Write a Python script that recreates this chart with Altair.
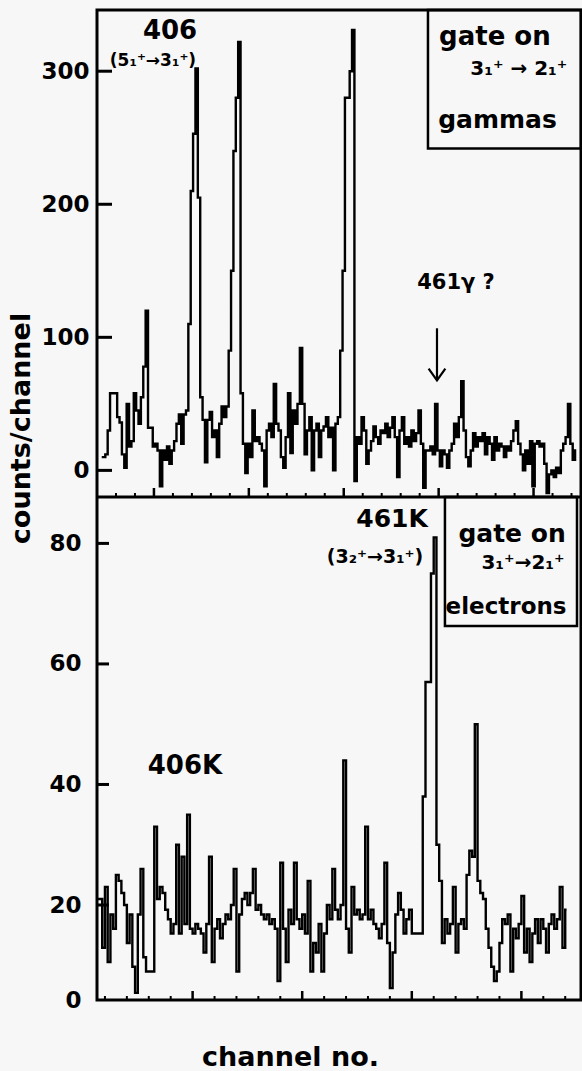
import altair as alt
import pandas as pd

# ---------------- data ----------------
# upper panel: gamma spectrum, counts per channel (channel 18 onward)
top_counts = [
    10, 10, 12, 30, 58, 58, 58, 40, 36, 12,
    2, 50, 18, 22, 58, 45, 35, 55, 78, 120,
    32, 32, 18, 20, 15, -12, 15, 8, 18, 5,
    15, 22, 35, 42, 20, 42, 45, 110, 210, 253,
    302, 205, 55, 38, 6, 38, 44, 25, 30, 10,
    35, 48, 40, 48, 90, 150, 240, 280, 322, 58,
    20, -2, 20, 10, 45, 22, 25, 20, 15, -12,
    30, 35, 25, 65, 35, 30, 10, 2, 25, 58,
    13, 45, 35, 50, 92, 50, 12, 30, 40, 0,
    30, 35, 10, 30, 33, 40, 25, 32, 0, 35,
    40, 90, 150, 280, 280, 300, 331, -8, 25, 20,
    40, 30, 5, 15, 22, 33, 25, 20, 30, 28,
    35, 25, 32, 40, 25, -5, 30, 40, 20, 25,
    18, 30, 22, 28, 45, 20, -13, 15, 15, 18,
    12, 50, 15, 3, 15, 12, 2, 15, 20, 35,
    25, 40, 67, 30, 10, 3, 15, 28, 18, 25,
    22, 28, 12, 25, 20, 8, 25, 15, 20, 18,
    10, 18, 15, 22, 30, 37, 20, 12, 0, 15,
    5, 22, -12, 20, 22, 18, 20, 5, -17, -3,
    0, -5, 2, -2, 15, 20, 25, 50, 20, 8,
    15,
]
top_first_channel = 18

# lower panel: electron spectrum, counts per channel
bottom_counts = [
    21, 21, 21, 11, 23, 8, 18, 15, 25, 24,
    22, 20, 12, 18, 7, 1.5, 18, 26, 9, 6,
    6, 6, 33, 21, 23, 22, 19, 17, 14, 16,
    30, 14, 28, 16, 35, 15, 14, 16, 15, 14,
    10, 16, 28, 8, 15, 17, 13, 16, 18, 17,
    20, 26, 6, 18, 21, 22, 20, 22, 26, 19,
    20, 18, 17, 18, 16, 17, 15, 4, 27, 15,
    8, 19, 16, 27, 17, 15, 18, 14, 24, 6,
    12, 10, 16, 6, 14, 20, 17, 26, 19, 17,
    20, 44, 15, 10, 23, 18, 19, 17, 18, 33,
    17, 19, 16, 15, 13, 16, 27, 12, 2.5, 10,
    18, 22, 19, 14, 17, 19, 14, 14, 14, 14,
    38, 57, 57, 75, 81, 30, 24, 12, 17, 14,
    16, 23, 10, 16, 17, 15, 25, 29, 28, 50,
    24, 22, 21, 15, 11, 7, 4, 6, 12, 17,
    16, 18, 6, 15, 13, 16, 21.5, 10, 15, 8,
    14, 17, 12, 17, 15, 10, 16, 18, 15, 17,
    23, 11, 19,
]
bottom_first_channel = 4.5

# axis tick values
top_y_ticks = [0, 100, 200, 300]
bottom_y_labels = [0, 20, 40, 60, 80]
bottom_y_ticks = [20, 40, 60, 80]
top_x_major = [40, 80, 120, 160, 200]
top_x_minor = [24, 32, 48, 56, 64, 72, 88, 96, 104, 112, 128, 136, 144, 152,
               168, 176, 184, 192, 208, 216]
bottom_x_major = [40, 80, 120, 160]
bottom_x_minor = [8, 16, 24, 32, 48, 56, 64, 72, 88, 96, 104, 112, 128, 136,
                  144, 152, 168, 176]

# annotations (data coordinates)
top_note_text = ["406", "(5\u2081\u207a\u21923\u2081\u207a)", "gate  on",
                 "3\u2081\u207a \u2192 2\u2081\u207a", "gammas", "461\u03b3 ?"]
top_note_x = [46.8, 39.6, 183.7, 193.8, 184.8, 167.3]
top_note_y = [330, 308, 325.6, 302, 263, 140.6]
top_note_size = [26, 17, 26, 20, 25, 21]

bottom_note_text = ["461K", "(3\u2082\u207a\u21923\u2081\u207a)", "gate  on",
                    "3\u2081\u207a\u21922\u2081\u207a", "electrons", "406K"]
bottom_note_x = [112.8, 106.6, 156.6, 160.6, 154.4, 37.2]
bottom_note_y = [84, 77.8, 81.5, 76.7, 69.5, 43]
bottom_note_size = [25, 19, 25, 20, 23, 26]

top_box = {"x": [155.5], "x2": [220], "y": [242], "y2": [346]}
bottom_box = {"x": [132.1], "x2": [180.3], "y": [66.3], "y2": [87.7]}
arrow = {"x": [159.3], "y": [106.8], "y2": [67.7]}
separator = {"x": [16], "x2": [220], "y": [-20]}

FONT = "DejaVu Sans"
INK = "black"

W = 484          # plot width
TOP_H = 487      # upper panel height
H = 990          # both panels

# ---------------- scales (each panel its own) ----------------
top_xs = alt.Scale(domain=[16, 220], range=[0, W], nice=False, zero=False)
top_ys = alt.Scale(domain=[-20, 346], range=[TOP_H, 0], nice=False, zero=False)
bot_xs = alt.Scale(domain=[5.1, 180.3], range=[0, 480], nice=False, zero=False)
bot_ys = alt.Scale(domain=[0, 20, 87.7], range=[H, H - 95, TOP_H],
                   nice=False, zero=False)


def qx(field, scale, axis=None):
    return alt.X(field, type="quantitative", scale=scale, axis=axis)


def qy(field, scale, axis=None):
    return alt.Y(field, type="quantitative", scale=scale, axis=axis)


# ---------------- upper panel ----------------
top_df = pd.DataFrame({
    "ch": [top_first_channel + i for i in range(len(top_counts))],
    "counts": top_counts,
})

top_line = alt.Chart(top_df).mark_line(
    interpolate="step", color=INK, strokeWidth=2.4, clip=True
).encode(
    x=qx("ch", top_xs),
    y=qy("counts", top_ys, alt.Axis(
        orient="left", values=top_y_ticks, ticks=False, domain=False,
        grid=False, labelFont=FONT, labelFontSize=23, labelFontWeight="bold",
        labelColor=INK, labelPadding=8,
        title="counts/channel", titleFont=FONT, titleFontSize=27,
        titleFontWeight="bold", titleColor=INK, titleAngle=270,
        titleX=-76, titleY=418, titleAlign="center", titleBaseline="middle",
    )),
)

top_major = alt.Chart(pd.DataFrame({"t": top_x_major})).mark_rule(
    color=INK, strokeWidth=2.5
).encode(x=qx("t", top_xs), y=alt.value(TOP_H), y2=alt.value(TOP_H - 9))
top_minor = alt.Chart(pd.DataFrame({"t": top_x_minor})).mark_rule(
    color=INK, strokeWidth=2
).encode(x=qx("t", top_xs), y=alt.value(TOP_H), y2=alt.value(TOP_H - 4))
top_yt = alt.Chart(pd.DataFrame({"v": top_y_ticks})).mark_rule(
    color=INK, strokeWidth=3
).encode(y=qy("v", top_ys), x=alt.value(0), x2=alt.value(15))

sep = alt.Chart(pd.DataFrame(separator)).mark_rule(
    color=INK, strokeWidth=3
).encode(x=qx("x", top_xs), x2="x2:Q", y=qy("y", top_ys))

top_box_layer = alt.Chart(pd.DataFrame(top_box)).mark_rect(
    fillOpacity=0, stroke=INK, strokeWidth=2.5
).encode(x=qx("x", top_xs), x2="x2:Q", y=qy("y", top_ys), y2="y2:Q")

top_notes = alt.Chart(pd.DataFrame({
    "x": top_note_x, "y": top_note_y, "t": top_note_text, "fs": top_note_size
})).mark_text(font=FONT, fontWeight="bold", color=INK, align="center",
              baseline="middle").encode(
    x=qx("x", top_xs), y=qy("y", top_ys), text="t:N",
    size=alt.Size("fs:Q", scale=None, legend=None),
)

arrow_shaft = alt.Chart(pd.DataFrame(arrow)).mark_rule(
    color=INK, strokeWidth=2.2
).encode(x=qx("x", top_xs), y=qy("y", top_ys), y2="y2:Q")
arrow_head = alt.Chart(pd.DataFrame(arrow)).mark_point(
    shape="M-1,-1.4L0,0L1,-1.4", filled=False, stroke=INK, strokeWidth=2.2,
    size=280, opacity=1
).encode(x=qx("x", top_xs), y=qy("y2", top_ys))

# ---------------- lower panel ----------------
bot_df = pd.DataFrame({
    "ch": [bottom_first_channel + i for i in range(len(bottom_counts))],
    "counts": bottom_counts,
})

bot_line = alt.Chart(bot_df).mark_line(
    interpolate="step", color=INK, strokeWidth=2.4, clip=True
).encode(
    x=qx("ch", bot_xs, alt.Axis(
        orient="bottom", labels=False, ticks=False, domain=False, grid=False,
        title="channel  no.", titleFont=FONT, titleFontSize=27,
        titleFontWeight="bold", titleColor=INK, titleX=193, titleY=57,
        titleAlign="center", titleBaseline="middle",
    )),
    y=qy("counts", bot_ys, alt.Axis(
        orient="left", values=bottom_y_labels, ticks=False, domain=False,
        grid=False, labelFont=FONT, labelFontSize=23, labelFontWeight="bold",
        labelColor=INK, labelPadding=16, title=None,
    )),
)

bot_major = alt.Chart(pd.DataFrame({"t": bottom_x_major})).mark_rule(
    color=INK, strokeWidth=2.5
).encode(x=qx("t", bot_xs), y=alt.value(H), y2=alt.value(H - 9))
bot_minor = alt.Chart(pd.DataFrame({"t": bottom_x_minor})).mark_rule(
    color=INK, strokeWidth=2
).encode(x=qx("t", bot_xs), y=alt.value(H), y2=alt.value(H - 4))
bot_yt = alt.Chart(pd.DataFrame({"v": bottom_y_ticks})).mark_rule(
    color=INK, strokeWidth=3
).encode(y=qy("v", bot_ys), x=alt.value(0), x2=alt.value(12))

bot_box_layer = alt.Chart(pd.DataFrame(bottom_box)).mark_rect(
    fillOpacity=0, stroke=INK, strokeWidth=2.5
).encode(x=qx("x", bot_xs), x2="x2:Q", y=qy("y", bot_ys), y2="y2:Q")

bot_notes = alt.Chart(pd.DataFrame({
    "x": bottom_note_x, "y": bottom_note_y, "t": bottom_note_text,
    "fs": bottom_note_size
})).mark_text(font=FONT, fontWeight="bold", color=INK, align="center",
              baseline="middle").encode(
    x=qx("x", bot_xs), y=qy("y", bot_ys), text="t:N",
    size=alt.Size("fs:Q", scale=None, legend=None),
)

chart = alt.layer(
    top_line, top_major, top_minor, top_yt, sep, top_box_layer, top_notes,
    arrow_shaft, arrow_head,
    bot_line, bot_major, bot_minor, bot_yt, bot_box_layer, bot_notes,
).resolve_scale(
    x="independent", y="independent"
).properties(
    width=W, height=H,
    autosize=alt.AutoSizeParams(type="none"),
    padding={"left": 97, "top": 10, "right": 1, "bottom": 71},
    background="#f7f7f7",
).configure_view(stroke=INK, strokeWidth=3)

chart.save("out.html", embed_options={"renderer": "svg", "actions": False})
